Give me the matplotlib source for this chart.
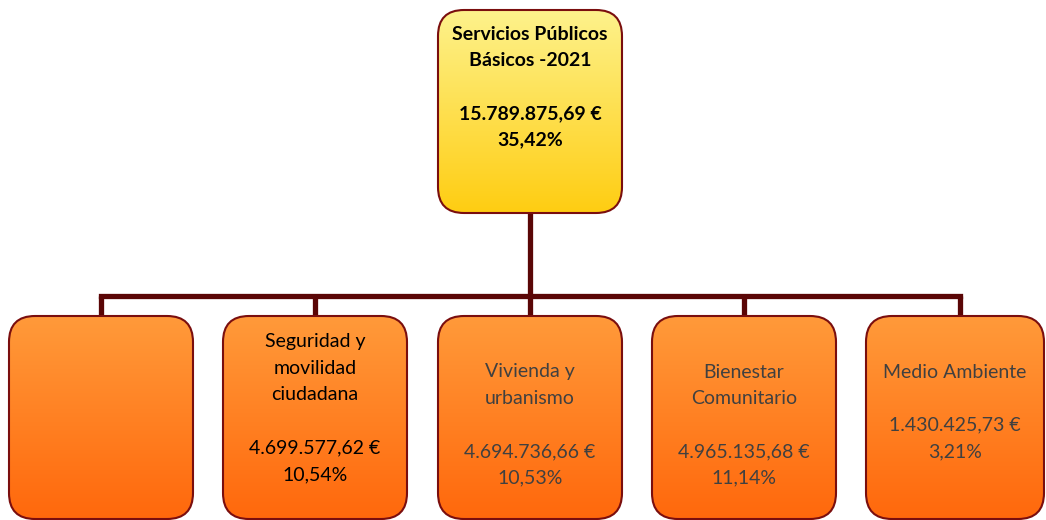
import numpy as np
import matplotlib
matplotlib.use("Agg")
import matplotlib.pyplot as plt
from matplotlib.patches import FancyBboxPatch
from matplotlib.colors import to_rgb

# ---- data ----
root_title = ["Servicios Públicos", "Básicos -2021"]
root_amount = "15.789.875,69 €"
root_pct = "35,42%"

child_titles = [[], ["Seguridad y", "movilidad", "ciudadana"], ["Vivienda y", "urbanismo"],
                ["Bienestar", "Comunitario"], ["Medio Ambiente"]]
child_amounts = ["", "4.699.577,62 €", "4.694.736,66 €", "4.965.135,68 €", "1.430.425,73 €"]
child_pcts = ["", "10,54%", "10,53%", "11,14%", "3,21%"]
child_text_colors = ["#000000", "#000000", "#404040", "#404040", "#404040"]

# ---- layout ----
W, H = 1046, 520
fig = plt.figure(figsize=(W / 100, H / 100), dpi=100)
ax = fig.add_axes([0, 0, 1, 1])
ax.set_xlim(0, W)
ax.set_ylim(H, 0)
ax.axis("off")

FONT = ["Lato", "DejaVu Sans"]
BORDER = "#7a0e0e"
LINE = "#5a0606"
BW, BH, R = 184, 203, 26
LS = 26.5
FS = 14


def grad_box(x0, y0, w, h, c_top, c_bot):
    patch = FancyBboxPatch((x0, y0), w, h, boxstyle=f"round,pad=0,rounding_size={R}",
                           fc="none", ec=BORDER, lw=1.5, zorder=3)
    ax.add_patch(patch)
    n = 256
    t = np.linspace(0, 1, n)[:, None]
    ct, cb = np.array(to_rgb(c_top)), np.array(to_rgb(c_bot))
    img = (ct[None, :] * (1 - t) + cb[None, :] * t)[:, None, :]
    im = ax.imshow(img, extent=(x0, x0 + w, y0 + h, y0), origin="upper",
                   aspect="auto", zorder=2, interpolation="bilinear")
    im.set_clip_path(patch)


# connectors
root_x0, root_y0 = 438, 10
child_x0 = [9, 223, 438, 652, 866]
child_w = [184, 184, 184, 184, 178]
child_y0 = 316
bar_y = 296
cx = [x + w / 2 for x, w in zip(child_x0, child_w)]
cx[-1] = 960
ax.plot([root_x0 + BW / 2, root_x0 + BW / 2], [root_y0 + BH, bar_y], color=LINE, lw=3.8,
        zorder=1, solid_capstyle="butt")
ax.plot([cx[0], cx[-1]], [bar_y, bar_y], color=LINE, lw=3.8, zorder=1, solid_capstyle="projecting")
for x in cx:
    ax.plot([x, x], [bar_y, child_y0], color=LINE, lw=3.8, zorder=1, solid_capstyle="butt")

# root box
grad_box(root_x0, root_y0, BW, BH, "#fdf28c", "#ffcd12")
root_lines = root_title + [""] + [root_amount, root_pct]
for i, s in enumerate(root_lines):
    ax.text(root_x0 + BW / 2, 34 + i * LS, s, ha="center", va="center", fontsize=FS,
            fontweight="bold", family=FONT, color="black", zorder=4)

# children
first_y = [0, 342, 372, 372, 372]
for k in range(5):
    x0 = child_x0[k]
    w = child_w[k]
    grad_box(x0, child_y0, w, BH, "#ff9a3a", "#ff680c")
    if not child_titles[k]:
        continue
    lines = child_titles[k] + [""] + [child_amounts[k], child_pcts[k]]
    for i, s in enumerate(lines):
        ax.text(x0 + w / 2, first_y[k] + i * LS, s, ha="center", va="center", fontsize=FS,
                family=FONT, color=child_text_colors[k], zorder=4)

fig.savefig("out.png", dpi=100)
